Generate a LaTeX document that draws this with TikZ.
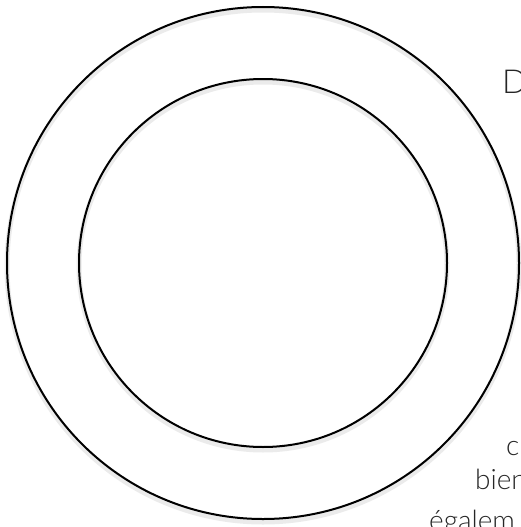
\documentclass[tikz,border=0pt]{standalone}
\usepackage{fontspec}
\setmainfont{Lato}[UprightFont=* Light]
\begin{document}
\begin{tikzpicture}[x=1pt,y=-1pt,
  ring/.style={draw=black,line width=2pt},
  ringshadow/.style={draw=black,line width=5pt,opacity=0.08},
  bigtxt/.style={anchor=base west,inner sep=0pt,text=black!85,font=\fontsize{33}{38}\selectfont},
  smalltxt/.style={anchor=base west,inner sep=0pt,text=black!85,font=\fontsize{28}{32}\selectfont}]
\useasboundingbox (0,0) rectangle (520,527);
\fill[white] (0,0) rectangle (520,527);
\coordinate (c) at (263,263);
\coordinate (cs) at (263,266);
\draw[ringshadow] (cs) circle[radius=256];
\draw[ringshadow] (cs) circle[radius=184];
\draw[ring] (c) circle[radius=256];
\draw[ring] (c) circle[radius=184];
\node[bigtxt] (t1) at (502,93) {D};
\node[smalltxt] (t2) at (506,455) {c};
\node[smalltxt] (t3) at (475,489) {bien};
\node[smalltxt] (t4) at (429,530) {égalem};
\end{tikzpicture}
\end{document}
